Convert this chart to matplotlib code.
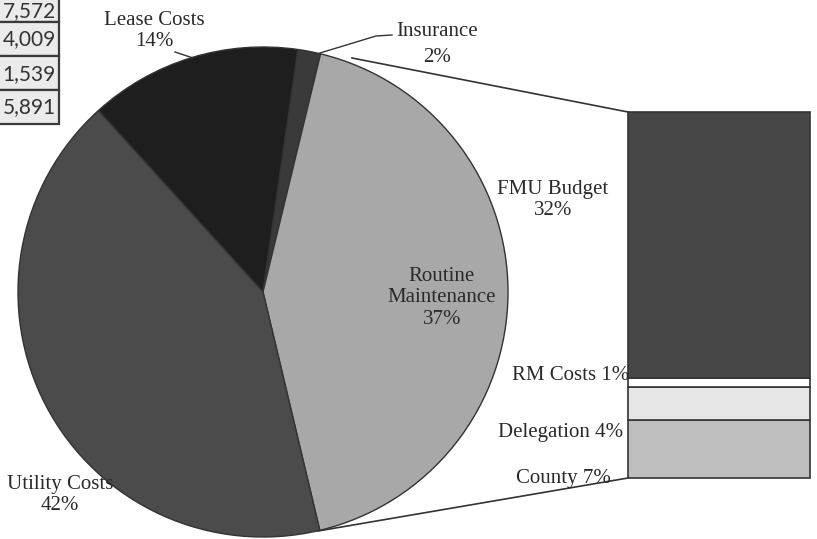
import numpy as np
import matplotlib.pyplot as plt
from matplotlib.patches import Rectangle

# pie slices (clockwise from the lease/utility border)
pie_names = ["Lease Costs", "Insurance", "Routine Maintenance", "Utility Costs"]
pie_values = [14, 1.5, 42.5, 42]
pie_labels = ["Lease Costs\n14%", "Insurance\n2%", "Routine\nMaintenance\n37%", "Utility Costs\n42%"]
pie_colors = ["#1e1e1e", "#3a3a3a", "#a8a8a8", "#4b4b4b"]

# bar of pie, bottom to top
bar_names = ["County", "Delegation", "RM Costs", "FMU Budget"]
bar_values = [7, 4, 1, 32]
bar_labels = ["County 7%", "Delegation 4%", "RM Costs 1%", "FMU Budget\n32%"]
bar_colors = ["#bebebe", "#e6e6e6", "#ffffff", "#474747"]

# cropped table in the corner
table_text = ["7,572", "4,009", "1,539", "5,891"]

W, H = 817, 539
txt = "#2a2a2a"
serif = "Liberation Serif"

fig = plt.figure(figsize=(W / 100, H / 100), dpi=100)
fig.patch.set_facecolor("white")

# pie
ax_pie = fig.add_axes([18 / W, (H - 537) / H, 490 / W, 490 / H])
ax_pie.pie(pie_values, colors=pie_colors, startangle=132.2, counterclock=False,
           wedgeprops=dict(edgecolor="#333333", linewidth=1.0))
ax_pie.set_xlim(-1, 1)
ax_pie.set_ylim(-1, 1)
ax_pie.axis("off")

# stacked bar
ax_bar = fig.add_axes([628 / W, (H - 478) / H, (810 - 628) / W, (478 - 112) / H])
bottoms = np.concatenate([[0], np.cumsum(bar_values)[:-1]])
ax_bar.bar(0, bar_values, bottom=bottoms, width=1, color=bar_colors,
           edgecolor="#333333", linewidth=1.2, clip_on=False)
ax_bar.set_xlim(-0.5, 0.5)
ax_bar.set_ylim(0, sum(bar_values))
ax_bar.axis("off")

# overlay in pixel coords for labels, leader lines, table
ov = fig.add_axes([0, 0, 1, 1], zorder=5)
ov.set_xlim(0, W)
ov.set_ylim(H, 0)
ov.axis("off")
ov.patch.set_alpha(0)

# connectors pie -> bar
ov.plot([352, 628], [58, 112], color="#333333", lw=1.2)
ov.plot([318, 628], [531, 478], color="#333333", lw=1.2)

# leader lines
ov.plot([175, 193], [52, 58], color="#333333", lw=1.0)
ov.plot([320, 376, 392], [53, 36, 35], color="#333333", lw=1.0)

fs = 15
ov.text(154, 31, pie_labels[0], ha="center", va="center", fontsize=fs, family=serif, color=txt, linespacing=1.15)
ov.text(437, 45, pie_labels[1], ha="center", va="center", fontsize=fs, family=serif, color=txt, linespacing=1.5)
ov.text(442, 298, pie_labels[2], ha="center", va="center", fontsize=fs, family=serif, color=txt, linespacing=1.15)
ov.text(60, 495, pie_labels[3], ha="center", va="center", fontsize=fs, family=serif, color=txt, linespacing=1.15)

ov.text(553, 200, bar_labels[3], ha="center", va="center", fontsize=fs, family=serif, color=txt, linespacing=1.15)
ov.text(629, 375, bar_labels[2], ha="right", va="center", fontsize=fs, family=serif, color=txt)
ov.text(623, 432, bar_labels[1], ha="right", va="center", fontsize=fs, family=serif, color=txt)
ov.text(611, 479, bar_labels[0], ha="right", va="center", fontsize=fs, family=serif, color=txt)

# table cells
row_edges = [-12, 22, 56, 90, 124]
text_y = [11, 39, 74, 107]
for i, t in enumerate(table_text):
    y0, y1 = row_edges[i], row_edges[i + 1]
    ov.add_patch(Rectangle((-5, y0), 64, y1 - y0, facecolor="#ebebeb",
                           edgecolor="#3a3a3a", linewidth=1.6))
    ov.text(56, text_y[i], t, ha="right", va="center", fontsize=15,
            family="Lato", color="#333333")

fig.savefig("out.png", dpi=100)
